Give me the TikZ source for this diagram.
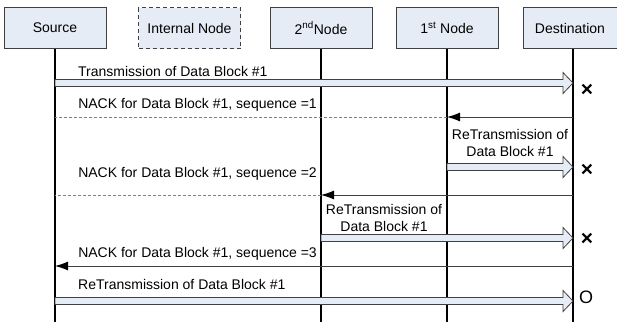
\documentclass[tikz,border=0pt]{standalone}
\usepackage{fontspec}
\setmainfont{Liberation Sans}
\usetikzlibrary{arrows.meta,calc}

\definecolor{boxfill}{RGB}{230,236,246}
\definecolor{boxline}{RGB}{64,64,64}

\tikzset{
  hdr/.style={draw=boxline, fill=boxfill, line width=0.8pt,
    minimum width=102pt, minimum height=41pt, inner sep=0pt},
  life/.style={line width=1.6pt, black},
  fat/.style={draw=boxline, fill=boxfill, line width=0.8pt, line join=miter},
  nack/.style={draw=boxline, line width=0.9pt, -{Latex[length=13pt,width=9pt,black]}},
  backline/.style={draw=gray, line width=0.8pt, dash pattern=on 3pt off 2pt},
  lbl/.style={inner sep=0pt},
  lossmark/.style={inner sep=0pt, font=\fontsize{21}{21}\selectfont\bfseries},
}

% fat hollow arrow between two points on the lifelines
\newcommand{\fatarrow}[2]{%
  \path[fat] let \p1=(#1), \p2=(#2) in
    (\x1,\y1+3.5pt) -- (\x2-10pt,\y1+3.5pt) -- (\x2-10pt,\y1+10.5pt) -- (\x2,\y1)
    -- (\x2-10pt,\y1-10.5pt) -- (\x2-10pt,\y1-3.5pt) -- (\x1,\y1-3.5pt) -- cycle;}

\begin{document}
\begin{tikzpicture}[x=1pt, y=-1pt, font=\fontsize{14}{17}\selectfont]
        \useasboundingbox (0,0) rectangle (617,322);
        % ==== HEADERS ====
        \node[hdr] (src) at (55,28) {Source};
        \node[hdr, dash pattern=on 4pt off 3pt] (int) at (189.5,28) {Internal Node};
        \node[hdr] (nd2) at (321,28) {2\textsuperscript{nd}Node};
        \node[hdr] (nd1) at (447,28) {1\textsuperscript{st} Node};
        \node[hdr, minimum width=94pt] (dst) at (570,28) {Destination};
        \coordinate (dstl) at ([xshift=3pt]dst.south);

        % ==== LIFELINES ====
        \draw[life] (src.south) -- (src.south |- 0,322);
        \draw[life] (nd2.south) -- (nd2.south |- 0,322);
        \draw[life] (nd1.south) -- (nd1.south |- 0,322);
        \draw[life] (dstl) -- (dstl |- 0,322);

        % ==== FIRST TRANSMISSION ====
        \fatarrow{src |- 0,83}{dstl |- 0,83}
        \node[lbl, anchor=base west] (t1) at (78,76) {Transmission of Data Block \#1};
        \node[lossmark] (x1) at (587,90) {×};

        % ==== NACK 1 ====
        \draw[nack] (dstl |- 0,117) -- (nd1 |- 0,117);
        \draw[backline] (nd1 |- 0,117) -- (src |- 0,117);
        \node[lbl, anchor=base east] (n1) at (317,108) {NACK for Data Block \#1, sequence =1};

        % ==== RETRANSMISSION FROM 1st NODE ====
        \fatarrow{nd1 |- 0,167}{dstl |- 0,167}
        \node[lbl, align=center] (r1) at (510,143) {ReTransmission of\\Data Block \#1};
        \node[lossmark] (x2) at (587,170) {×};

        % ==== NACK 2 ====
        \draw[nack] (dstl |- 0,195) -- (nd2 |- 0,195);
        \draw[backline] (nd2 |- 0,195) -- (src |- 0,195);
        \node[lbl, anchor=base east] (n2) at (317,177) {NACK for Data Block \#1, sequence =2};

        % ==== RETRANSMISSION FROM 2nd NODE ====
        \fatarrow{nd2 |- 0,238}{dstl |- 0,238}
        \node[lbl, align=center] (r2) at (384,218) {ReTransmission of\\Data Block \#1};
        \node[lossmark] (x3) at (587,239) {×};

        % ==== NACK 3 ====
        \draw[nack] (dstl |- 0,266) -- (src |- 0,266);
        \node[lbl, anchor=base east] (n3) at (317,257) {NACK for Data Block \#1, sequence =3};

        % ==== RETRANSMISSION FROM SOURCE ====
        \fatarrow{src |- 0,301}{dstl |- 0,301}
        \node[lbl, anchor=base west] (r3) at (78,289) {ReTransmission of Data Block \#1};
        \node[inner sep=0pt, font=\fontsize{18}{18}\selectfont] (ok) at (586,297) {O};
\end{tikzpicture}
\end{document}
